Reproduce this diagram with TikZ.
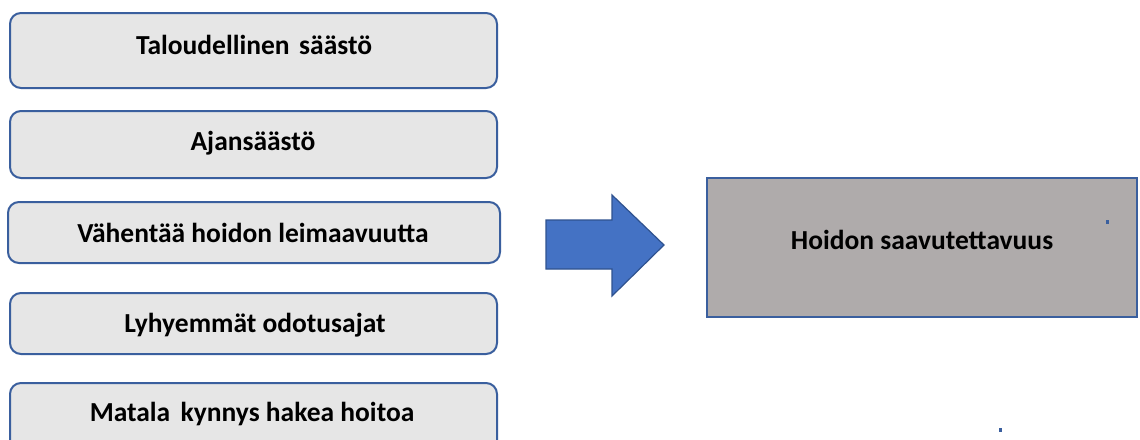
\documentclass[tikz,border=0pt]{standalone}
\usepackage{fontspec}
\setmainfont{Carlito}
\definecolor{boxfill}{HTML}{E6E6E6}
\definecolor{boxline}{HTML}{3A5F9E}
\definecolor{arrowfill}{HTML}{4472C4}
\definecolor{arrowline}{HTML}{2F528F}
\definecolor{bigfill}{HTML}{AFABAB}
\tikzset{
  sidebox/.style={draw=boxline, fill=boxfill, line width=2pt, rounded corners=11pt, minimum width=487pt, inner sep=0pt},
  boxlabel/.style={font=\fontsize{27.5}{32}\selectfont\bfseries, inner sep=0pt, text=black},
  bigbox/.style={draw=boxline, fill=bigfill, line width=2.2pt, minimum width=430pt, minimum height=139pt, inner sep=0pt},
  dotmark/.style={fill=boxline, inner sep=0pt, minimum width=3pt, minimum height=3.5pt}
}
\begin{document}
\begin{tikzpicture}[x=1pt,y=-1pt]
\useasboundingbox (0,0) rectangle (1140,439);
\clip (0,0) rectangle (1140,439);
\fill[white] (0,0) rectangle (1140,439);
% left boxes
\node[sidebox, minimum height=75pt] (b1) at (253.5,50.5) {};
\node[boxlabel] (t1) at (254,45) {Taloudellinen\hspace{0.12em} säästö};
\node[sidebox, minimum height=67pt] (b2) at (253.5,144.5) {};
\node[boxlabel] (t2) at (253,143) {Ajansäästö};
\node[sidebox, minimum height=61pt, minimum width=492pt] (b3) at (254,232.5) {};
\node[boxlabel] (t3) at (253,233) {Vähentää hoidon leimaavuutta};
\node[sidebox, minimum height=61pt] (b4) at (253.5,323.5) {};
\node[boxlabel] (t4) at (255,325) {Lyhyemmät odotusajat};
\node[sidebox, minimum height=90pt] (b5) at (253.5,428) {};
\node[boxlabel] (t5) at (252,414) {Matala\hspace{0.15em} kynnys hakea hoitoa};
% block arrow
\draw[fill=arrowfill, draw=arrowline, line width=1.2pt, line join=miter]
  (546,220) -- (612,220) -- (612,195) -- (664,245) -- (612,296) -- (612,269) -- (546,269) -- cycle;
% big box
\node[bigbox] (big) at (922,247.5) {};
\node[boxlabel] (tb) at (922,240) {Hoidon saavutettavuus};
% stray dots
\node[dotmark] (d1) at (1107,222) {};
\node[dotmark, minimum height=4.5pt] (d2) at (1000,430) {};
\end{tikzpicture}
\end{document}
